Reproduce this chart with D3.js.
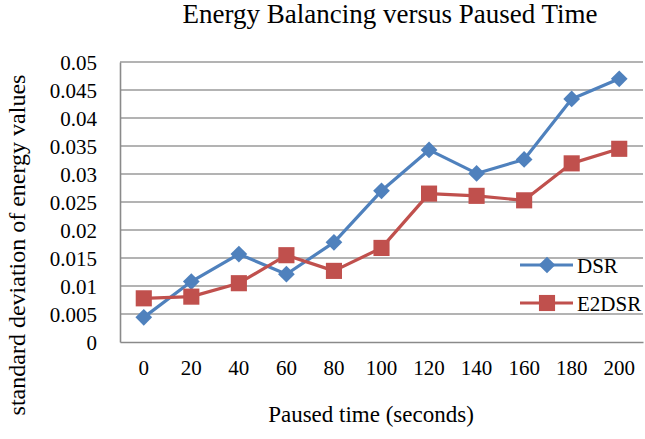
<!DOCTYPE html>
<html>
<head>
<meta charset="utf-8">
<script src="https://cdn.jsdelivr.net/npm/d3@7"></script>
<style>
  body { margin: 0; background: #fff; }
  text { font-family: "Liberation Serif", "Times New Roman", serif; fill: #000; }
</style>
</head>
<body>
<script>
// chart values
var pausedTimes = [0, 20, 40, 60, 80, 100, 120, 140, 160, 180, 200];
var dsrValues = [0.0044, 0.0108, 0.0157, 0.0121, 0.0178, 0.0270, 0.0343, 0.0301, 0.0326, 0.0434, 0.0470];
var e2dsrValues = [0.0078, 0.0081, 0.0105, 0.0155, 0.0127, 0.0168, 0.0265, 0.0261, 0.0253, 0.0319, 0.0345];
var yTicks = [0, 0.005, 0.01, 0.015, 0.02, 0.025, 0.03, 0.035, 0.04, 0.045, 0.05];

var series = [
	{ name: 'DSR', values: dsrValues, color: '#4F81BD', marker: 'diamond' },
	{ name: 'E2DSR', values: e2dsrValues, color: '#C0504D', marker: 'square' }
];

var dim = { width: 645, height: 439, margins: { left: 120, top: 62, right: 2, bottom: 97 } };
var innerW = dim.width - dim.margins.left - dim.margins.right;
var innerH = dim.height - dim.margins.top - dim.margins.bottom;

var svg = d3.select('body').append('svg')
	.attr('width', dim.width)
	.attr('height', dim.height);

var plot = svg.append('g')
	.attr('transform', 'translate(' + dim.margins.left + ',' + dim.margins.top + ')');

var x = d3.scaleBand()
	.domain(pausedTimes)
	.range([0, innerW]);

var y = d3.scaleLinear()
	.domain([0, 0.05])
	.range([innerH, 0]);

// horizontal gridlines
plot.append('g')
	.selectAll('line')
	.data(yTicks.slice(1))
	.enter().append('line')
	.attr('x1', 0)
	.attr('x2', innerW)
	.attr('y1', function(d){ return y(d); })
	.attr('y2', function(d){ return y(d); })
	.attr('stroke', '#9a9a9a')
	.attr('stroke-width', 1.3);

// y axis
var yAxis = plot.append('g')
	.call(d3.axisLeft(y).tickValues(yTicks).tickSize(0).tickPadding(23)
		.tickFormat(function(d){ return d === 0 ? '0' : String(+d.toFixed(3)); }));
yAxis.select('.domain').attr('stroke', '#8a8a8a').attr('stroke-width', 1.6);
yAxis.selectAll('text')
	.style('font-family', '"Liberation Serif", serif')
	.style('font-size', '21px')
	.attr('dy', '0.35em');

// x axis
var xAxis = plot.append('g')
	.attr('transform', 'translate(0,' + innerH + ')')
	.call(d3.axisBottom(x).tickSize(0).tickPadding(18));
xAxis.select('.domain').attr('stroke', '#8a8a8a').attr('stroke-width', 1.6);
xAxis.selectAll('text')
	.style('font-family', '"Liberation Serif", serif')
	.style('font-size', '21px');

function cx(i){ return x(pausedTimes[i]) + x.bandwidth() / 2; }

var line = d3.line()
	.x(function(d, i){ return cx(i); })
	.y(function(d){ return y(d); });

var symbols = {
	diamond: d3.symbol().type(d3.symbolSquare).size(140),
	square: d3.symbol().type(d3.symbolSquare).size(260)
};

series.forEach(function(s){
	plot.append('path')
		.datum(s.values)
		.attr('d', line)
		.attr('fill', 'none')
		.attr('stroke', s.color)
		.attr('stroke-width', 3.2)
		.attr('stroke-linejoin', 'round');

	plot.append('g')
		.selectAll('path')
		.data(s.values)
		.enter().append('path')
		.attr('d', symbols[s.marker])
		.attr('transform', function(d, i){
			return 'translate(' + cx(i) + ',' + y(d) + ')' + (s.marker === 'diamond' ? ' rotate(45)' : '');
		})
		.attr('fill', s.color);
});

// legend
var legend = svg.append('g');
series.forEach(function(s, i){
	var ly = 265 + i * 38;
	legend.append('line')
		.attr('x1', 520).attr('x2', 573)
		.attr('y1', ly).attr('y2', ly)
		.attr('stroke', s.color)
		.attr('stroke-width', 3.2);
	legend.append('path')
		.attr('d', symbols[s.marker])
		.attr('transform', 'translate(547,' + ly + ')' + (s.marker === 'diamond' ? ' rotate(45)' : ''))
		.attr('fill', s.color);
	legend.append('text')
		.attr('x', 577)
		.attr('y', ly + 7.5)
		.style('font-size', '21px')
		.text(s.name);
});

// titles
svg.append('text')
	.attr('x', 390)
	.attr('y', 23)
	.attr('text-anchor', 'middle')
	.style('font-size', '27px')
	.text('Energy Balancing versus Paused Time');

svg.append('text')
	.attr('x', 371)
	.attr('y', 422)
	.attr('text-anchor', 'middle')
	.style('font-size', '23px')
	.text('Paused time (seconds)');

svg.append('text')
	.attr('transform', 'translate(25,245) rotate(-90)')
	.attr('text-anchor', 'middle')
	.style('font-size', '24px')
	.text('standard deviation of energy values');
</script>
</body>
</html>
